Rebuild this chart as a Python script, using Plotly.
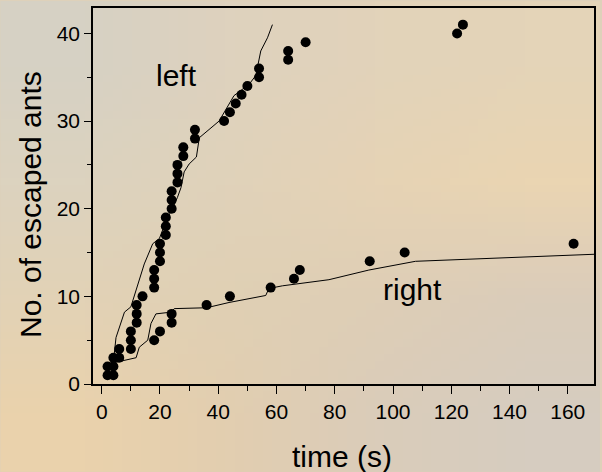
import base64
import struct
import zlib

import plotly.graph_objects as go

# Observed escapes (time in s, cumulative count)
left_t = [2, 2, 4, 6, 10, 10, 12, 12, 12, 14, 18, 18, 18, 20, 20, 20, 22, 22, 22,
          24, 24, 24, 26, 26, 26, 28, 28, 32, 32, 42, 44, 46, 48, 50, 54, 54,
          64, 64, 70, 122, 124]
left_n = list(range(1, 42))

right_t = [4, 4, 6, 10, 18, 20, 24, 24, 36, 44, 58, 66, 68, 92, 104, 162]
right_n = list(range(1, 17))

# Model curves
left_curve_t = [2.5, 4, 4.9, 7.8, 10, 12.7, 14.6, 17.5, 19.8, 22.3, 24.3, 26, 27.2,
                28.3, 30, 32.5, 33.5, 40.3, 45.4, 50.6, 52.9, 54.6, 56.9, 58.6]
left_curve_n = [2.3, 2.5, 5.3, 8.2, 8.8, 11.8, 13.7, 16, 16.6, 18.8, 20, 21.3, 22.4,
                24.2, 25.1, 25.9, 28.1, 30, 32.9, 34.2, 35.2, 38, 39.5, 41]

right_curve_t = [2.5, 4, 11.8, 12.9, 15.8, 16.9, 18.6, 23.8, 24.9, 36, 43.7, 56.3,
                 57.4, 62, 78, 91.7, 107.7, 169]
right_curve_n = [2.3, 2.4, 3.0, 4.2, 5.0, 6.9, 8.0, 8.2, 8.6, 8.7, 9.3, 10.1,
                 10.9, 11.2, 11.9, 13.0, 14.0, 14.8]

FONT = "Arial, Liberation Sans, sans-serif"

# soft photographic-looking background (style only): small colour grid, stretched
BG_GRID = [
    [(214, 209, 196), (222, 210, 190), (226, 211, 186), (228, 212, 184)],
    [(220, 211, 191), (224, 210, 186), (230, 211, 181), (234, 213, 178)],
    [(226, 210, 182), (224, 208, 180), (222, 206, 182), (218, 204, 186)],
    [(234, 210, 172), (226, 206, 176), (218, 204, 186), (214, 204, 192)],
]


def make_png(grid):
    h, w = len(grid), len(grid[0])
    raw = b"".join(b"\x00" + bytes([c for px in row for c in px]) for row in grid)

    def chunk(tag, data):
        c = struct.pack(">I", len(data)) + tag + data
        return c + struct.pack(">I", zlib.crc32(tag + data) & 0xFFFFFFFF)

    png = b"\x89PNG\r\n\x1a\n"
    png += chunk(b"IHDR", struct.pack(">IIBBBBB", w, h, 8, 2, 0, 0, 0))
    png += chunk(b"IDAT", zlib.compress(raw, 9))
    png += chunk(b"IEND", b"")
    return "data:image/png;base64," + base64.b64encode(png).decode()


W, H = 602, 472
ML, MR, MT, MB = 93, 6, 7, 88
PW, PH = W - ML - MR, H - MT - MB

fig = go.Figure()
fig.add_trace(go.Scatter(x=left_curve_t, y=left_curve_n, mode="lines",
                         line=dict(color="black", width=1), showlegend=False))
fig.add_trace(go.Scatter(x=right_curve_t, y=right_curve_n, mode="lines",
                         line=dict(color="black", width=1), showlegend=False))
fig.add_trace(go.Scatter(x=left_t, y=left_n, mode="markers",
                         marker=dict(color="black", size=10), showlegend=False))
fig.add_trace(go.Scatter(x=right_t, y=right_n, mode="markers",
                         marker=dict(color="black", size=10), showlegend=False))

fig.update_layout(
    width=W, height=H,
    margin=dict(l=ML, r=MR, t=MT, b=MB),
    paper_bgcolor="rgb(222,209,186)",
    plot_bgcolor="rgba(0,0,0,0)",
    font=dict(family=FONT, color="black", size=21),
    images=[dict(source=make_png(BG_GRID), xref="paper", yref="paper",
                 x=-ML / PW, y=1 + MT / PH, sizex=W / PW, sizey=H / PH,
                 xanchor="left", yanchor="top", sizing="stretch", layer="below")],
    xaxis=dict(range=[-3, 169], tickvals=[0, 20, 40, 60, 80, 100, 120, 140, 160],
               ticks="outside", ticklen=8, tickwidth=1.2, tickcolor="black",
               minor=dict(dtick=10, tick0=0, ticks="outside", ticklen=5, tickwidth=1.2, tickcolor="black"),
               showline=True, linecolor="black", linewidth=1.5, mirror=True,
               showgrid=False, zeroline=False, tickfont=dict(size=21)),
    yaxis=dict(range=[0, 42.9], tickvals=[0, 10, 20, 30, 40],
               ticks="outside", ticklen=7, tickwidth=1.2, tickcolor="black",
               minor=dict(dtick=5, tick0=0, ticks="outside", ticklen=4, tickwidth=1.2, tickcolor="black"),
               showline=True, linecolor="black", linewidth=1.5, mirror=True,
               showgrid=False, zeroline=False, tickfont=dict(size=21)),
    annotations=[
        dict(text="time (s)", xref="paper", yref="paper", x=0.497, y=-0.194,
             xanchor="center", yanchor="middle", showarrow=False, font=dict(size=30)),
        dict(text="No. of escaped ants", xref="paper", yref="paper", x=-0.125, y=0.477,
             xanchor="center", yanchor="middle", textangle=-90, showarrow=False,
             font=dict(size=30)),
        dict(text="left", x=25.5, y=35.2, xref="x", yref="y", showarrow=False,
             xanchor="center", yanchor="middle", font=dict(size=30)),
        dict(text="right", x=106.6, y=10.8, xref="x", yref="y", showarrow=False,
             xanchor="center", yanchor="middle", font=dict(size=30)),
    ],
)

fig.write_html("out.html", config={"displayModeBar": False},
               post_script="document.body.style.margin='0';document.body.style.overflow='hidden';")
